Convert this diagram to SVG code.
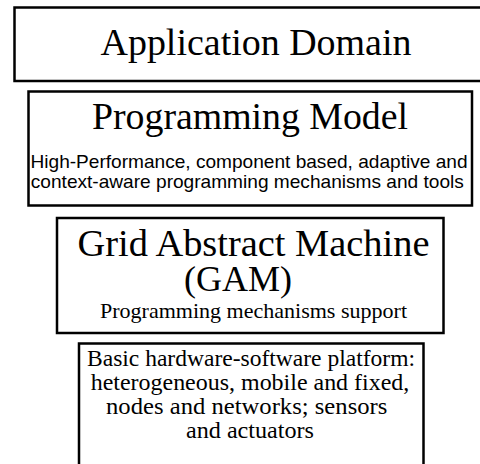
<svg xmlns="http://www.w3.org/2000/svg" width="480" height="464" viewBox="0 0 480 464">
  <style>
    .box { fill: #fff; stroke: #000; stroke-width: 2.5; }
    .serif { font-family: "Liberation Serif", "Times New Roman", serif; fill: #000; text-anchor: middle; }
    .sans { font-family: "Liberation Sans", Arial, sans-serif; fill: #000; text-anchor: middle; }
  </style>
  <rect width="480" height="464" fill="#fff"/>

  <!-- layer stack, top to bottom -->
  <g id="application-domain">
    <rect class="box" x="14.5" y="7.5" width="480" height="73.5"/>
    <text class="serif" x="256" y="55" font-size="38" textLength="311" lengthAdjust="spacingAndGlyphs">Application Domain</text>
  </g>

  <g id="programming-model">
    <rect class="box" x="28.5" y="91.5" width="443.5" height="114"/>
    <text class="serif" x="250" y="129" font-size="38" textLength="316" lengthAdjust="spacingAndGlyphs">Programming Model</text>
    <text class="sans" x="249" y="168" font-size="18.5" textLength="437" lengthAdjust="spacingAndGlyphs">High-Performance, component based, adaptive and</text>
    <text class="sans" x="247.3" y="188" font-size="18.5" textLength="433" lengthAdjust="spacingAndGlyphs">context-aware programming mechanisms and tools</text>
  </g>

  <g id="grid-abstract-machine">
    <rect class="box" x="57" y="218" width="386.5" height="115"/>
    <text class="serif" x="253.5" y="256" font-size="37" textLength="352" lengthAdjust="spacingAndGlyphs">Grid Abstract Machine</text>
    <text class="serif" x="238" y="291" font-size="36">(GAM)</text>
    <text class="serif" x="253.5" y="318" font-size="22" textLength="307" lengthAdjust="spacingAndGlyphs">Programming mechanisms support</text>
  </g>

  <g id="hardware-platform">
    <rect class="box" x="79" y="343.5" width="344.5" height="140"/>
    <text class="serif" x="251" y="366" font-size="24" textLength="328" lengthAdjust="spacingAndGlyphs">Basic hardware-software platform:</text>
    <text class="serif" x="250" y="390" font-size="24" textLength="318.6" lengthAdjust="spacingAndGlyphs">heterogeneous, mobile and fixed,</text>
    <text class="serif" x="246.7" y="414" font-size="24" textLength="281.3" lengthAdjust="spacingAndGlyphs">nodes and networks; sensors</text>
    <text class="serif" x="250" y="438" font-size="24" textLength="128" lengthAdjust="spacingAndGlyphs">and actuators</text>
  </g>
</svg>
